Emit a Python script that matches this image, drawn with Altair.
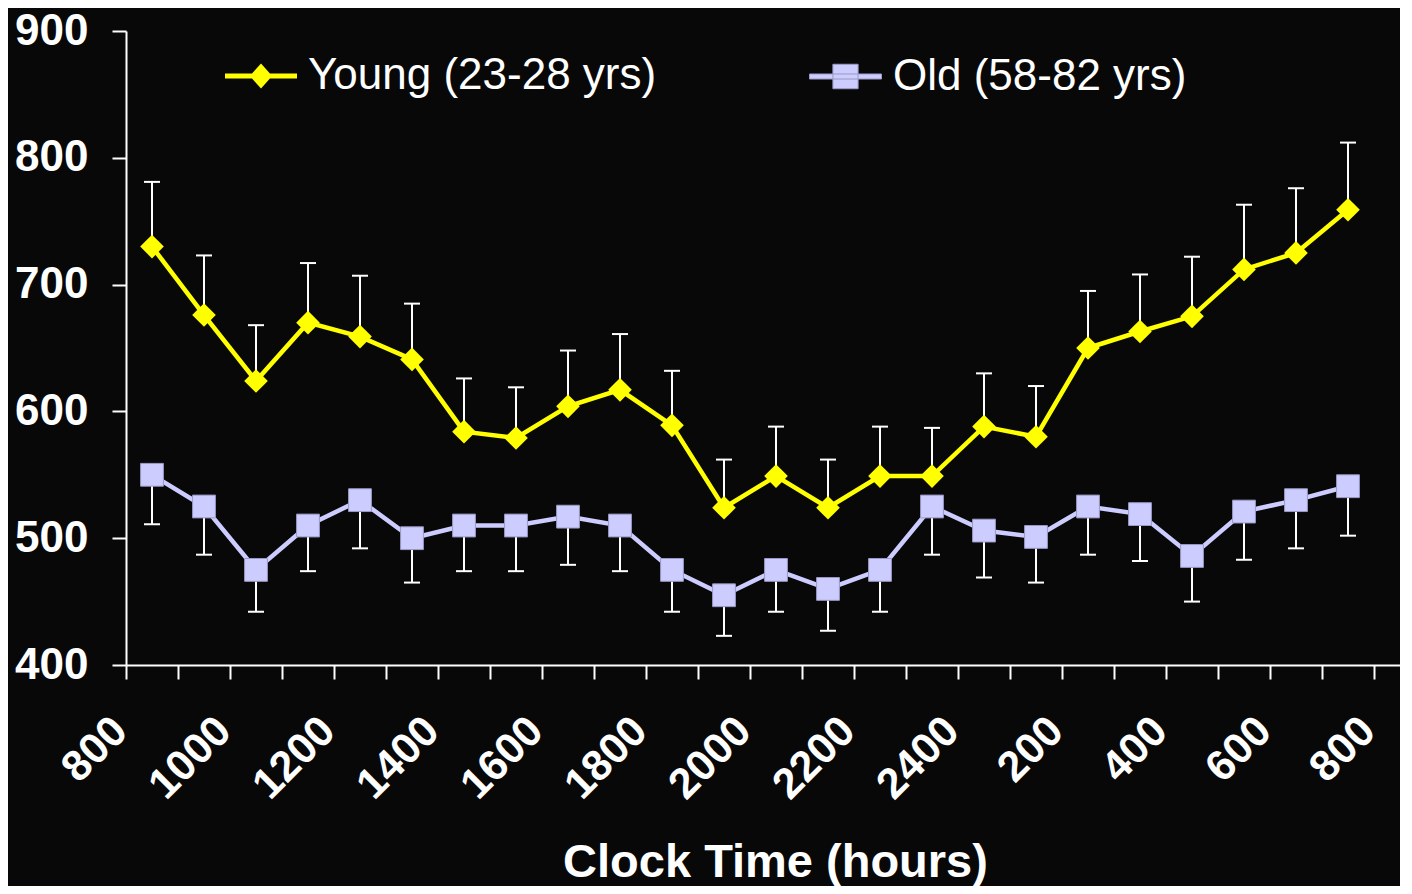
import json
import altair as alt
import pandas as pd

# ---- data ----
time_h = [8.5, 9.5, 10.5, 11.5, 12.5, 13.5, 14.5, 15.5, 16.5, 17.5, 18.5, 19.5,
          20.5, 21.5, 22.5, 23.5, 24.5, 25.5, 26.5, 27.5, 28.5, 29.5, 30.5, 31.5]
young = [730, 676, 624, 670, 659, 641, 584, 579, 604, 617, 589, 524,
         549, 524, 549, 549, 588, 580, 650, 663, 675, 712, 725, 759]
young_err = [51, 47, 44, 47, 48, 44, 42, 40, 44, 44, 43, 38,
             39, 38, 39, 38, 42, 40, 45, 45, 47, 51, 51, 53]
old = [550, 525, 475, 510, 530, 500, 510, 510, 517, 510, 475, 455,
       475, 460, 475, 525, 506, 501, 525, 519, 486, 521, 530, 541]
old_err = [39, 38, 33, 36, 38, 35, 36, 36, 38, 36, 33, 32,
           33, 33, 33, 38, 37, 36, 38, 37, 36, 38, 38, 39]

series_names = ["Young (23-28 yrs)", "Old (58-82 yrs)"]
tick_hours = [8, 9, 10, 11, 12, 13, 14, 15, 16, 17, 18, 19, 20,
              21, 22, 23, 24, 25, 26, 27, 28, 29, 30, 31, 32]
tick_labels = ["800", "", "1000", "", "1200", "", "1400", "", "1600", "", "1800", "",
               "2000", "", "2200", "", "2400", "", "200", "", "400", "", "600", "", "800"]
y_ticks = [400, 500, 600, 700, 800, 900]

FONT = "Liberation Sans"
BG = "#080808"
label_expr = json.dumps(tick_labels) + "[round(datum.value) - 8]"

x_enc = alt.X(
    "t:Q",
    scale=alt.Scale(domain=[8, 32.5], nice=False, zero=False),
    axis=alt.Axis(
        values=tick_hours, labelExpr=label_expr, labelAngle=-45,
        labelFontSize=43, labelFont=FONT, labelFontWeight="bold", labelColor="white",
        labelPadding=30, labelOffset=-21, labelOverlap=False, labelBound=False,
        labelFlush=False,
        title="Clock Time (hours)", titleFont=FONT, titleFontSize=47,
        titleFontWeight="bold", titleColor="white",
        titleX=649, titleY=211, titleAlign="center", titleBaseline="alphabetic",
        domainColor="white", domainWidth=2, tickColor="white", tickWidth=2,
        tickSize=14, grid=False,
    ),
)


def y_enc(field):
    return alt.Y(
        field,
        scale=alt.Scale(domain=[400, 900], nice=False, zero=False),
        axis=alt.Axis(
            values=y_ticks, title=None, labelFontSize=44, labelFont=FONT,
            labelFontWeight="bold", labelColor="white", labelPadding=24,
            domainColor="white", domainWidth=2, tickColor="white", tickWidth=2,
            tickSize=14, grid=False,
        ),
    )


def series(vals, errs, name, color, shape, up, symbol_path, legend_x, stroke=None):
    df = pd.DataFrame({"t": time_h, "v": vals, "e": errs, "g": name})
    df["end"] = df["v"] + df["e"] if up else df["v"] - df["e"]
    base = alt.Chart(df)
    rule = base.mark_rule(color="white", strokeWidth=2).encode(
        x=x_enc, y=y_enc("v:Q"), y2="end:Q")
    cap = base.mark_tick(color="white", thickness=2, size=16, orient="horizontal",
                         opacity=1).encode(x=x_enc, y=y_enc("end:Q"))
    line = base.mark_line(color=color, strokeWidth=4.5).encode(x=x_enc, y=y_enc("v:Q"))
    pkw = dict(filled=True, shape=shape, size=560 if shape == "diamond" else 520, opacity=1)
    if stroke:
        pkw.update(stroke=stroke, strokeWidth=1)
    pts = base.mark_point(**pkw).encode(
        x=x_enc, y=y_enc("v:Q"),
        color=alt.Color(
            "g:N",
            scale=alt.Scale(domain=[name], range=[color]),
            legend=alt.Legend(
                title=None, orient="none", legendX=legend_x, legendY=9, padding=0,
                symbolType=symbol_path, symbolSize=5184, symbolFillColor=color,
                symbolStrokeColor=stroke if stroke else color,
                symbolStrokeWidth=1 if stroke else 0, symbolOpacity=1,
                labelFont=FONT, labelFontSize=44, labelColor="white",
                labelOffset=11, labelLimit=0,
            ),
        ),
    )
    return alt.layer(rule, cap, line, pts)


young_sym = "M-1,-0.07H1V0.07H-1Z M0,-0.35L0.31,0L0,0.35L-0.31,0Z"
old_sym = "M-1,-0.07H1V0.07H-1Z M-0.35,-0.34H0.35V0.34H-0.35Z"

young_layer = series(young, young_err, series_names[0], "#FFFF00", "diamond", True,
                     young_sym, 99)
old_layer = series(old, old_err, series_names[1], "#CCCCFF", "square", False,
                   old_sym, 683, stroke="#9a9ac4")

chart = (
    alt.layer(young_layer, old_layer)
    .resolve_scale(color="independent")
    .properties(
        width=1274, height=634,
        autosize=alt.AutoSizeParams(type="none"),
        padding={"left": 118, "top": 23, "right": 0, "bottom": 221},
        background=BG,
    )
    .configure_view(stroke=None, fill=BG)
)

chart.save("out.html", embed_options={"renderer": "svg", "actions": False})
